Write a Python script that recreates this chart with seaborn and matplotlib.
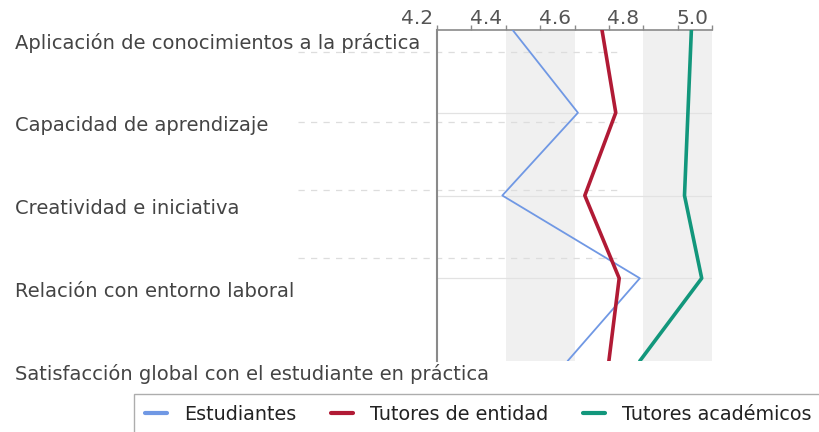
import matplotlib
matplotlib.use("Agg")
import matplotlib.pyplot as plt
from matplotlib.lines import Line2D
from matplotlib.transforms import ScaledTranslation, blended_transform_factory
from matplotlib.ticker import MultipleLocator
import seaborn as sns
import pandas as pd

categories = [
    "Aplicación de conocimientos a la práctica",
    "Capacidad de aprendizaje",
    "Creatividad e iniciativa",
    "Relación con entorno laboral",
    "Satisfacción global con el estudiante en práctica",
]
series_names = ["Estudiantes", "Tutores de entidad", "Tutores académicos"]
estudiantes = [4.42, 4.61, 4.39, 4.79, 4.58]
tutores_entidad = [4.68, 4.72, 4.63, 4.73, 4.70]
tutores_academicos = [4.94, 4.93, 4.92, 4.97, 4.79]
x_ticks = [4.2, 4.4, 4.6, 4.8, 5.0]
x_tick_labels = ["4.2", "4.4", "4.6", "4.8", "5.0"]

colors = ["#7098e4", "#b11a35", "#12977c"]
widths = [1.3, 2.6, 2.6]

rows = []
for name, vals in zip(series_names, [estudiantes, tutores_entidad, tutores_academicos]):
    for i, (c, v) in enumerate(zip(categories, vals)):
        rows.append({"series": name, "category": c, "pos": i, "value": v})
df = pd.DataFrame(rows)

sns.set_style("white")
plt.rcParams["font.family"] = ["DejaVu Sans"]

W, H = 820, 432
fig = plt.figure(figsize=(W / 100, H / 100), dpi=100)
ax = fig.add_axes([437 / W, 1 - 361 / H, (712 - 437) / W, (361 - 30) / H])

# shaded bands
ax.axvspan(4.4, 4.6, color="#f0f0f0", zorder=0, lw=0)
ax.axvspan(4.8, 5.0, color="#f0f0f0", zorder=0, lw=0)

# horizontal solid grid at categories
for i in range(1, len(categories) - 1):
    ax.axhline(i, color="#e2e2e2", lw=0.9, zorder=1)

# faint dashed guide lines
blend = blended_transform_factory(fig.transFigure, ax.transData)
for yv in [0.27, 1.11, 1.93, 2.76]:
    ax.add_line(Line2D([298 / W, 620 / W], [yv, yv], transform=blend, clip_on=False,
                       color="#dddddd", lw=0.9, ls=(0, (5, 5)), zorder=1))

sns.lineplot(data=df, x="value", y="pos", hue="series", hue_order=series_names,
             palette=colors, orient="y", sort=True, ax=ax, legend=False, zorder=3)
for ln, lw in zip(ax.lines[-3:], widths):
    ln.set_linewidth(lw)

ax.set_xlim(4.2, 5.0)
ax.set_ylim(len(categories) - 1, 0)
ax.xaxis.tick_top()
ax.set_xticks(x_ticks)
ax.set_xticklabels(x_tick_labels)
ax.xaxis.set_minor_locator(MultipleLocator(0.1))
ax.tick_params(axis="x", which="both", direction="out", length=3.6, width=1,
               color="#8a8a8a", labelsize=14.5, labelcolor="#555555", pad=-2.2, top=True, bottom=False)
for lab in ax.get_xticklabels():
    lab.set_ha("right")
    lab.set_transform(lab.get_transform() + ScaledTranslation(-4 / 100, 0, fig.dpi_scale_trans))
ax.set_yticks([])
ax.set_xlabel("")
ax.set_ylabel("")
for s in ["right", "bottom"]:
    ax.spines[s].set_visible(False)
ax.spines["top"].set_color("#8a8a8a")
ax.spines["left"].set_color("#8a8a8a")
ax.spines["top"].set_linewidth(1.2)
ax.spines["left"].set_linewidth(1.5)

# category labels
for i, c in enumerate(categories):
    ax.text(15 / W, i, c, transform=blend + ScaledTranslation(0, -13 / 100, fig.dpi_scale_trans),
            ha="left", va="center", fontsize=14, color="#444444", clip_on=False)

handles = [Line2D([], [], color=col, lw=3) for col in colors]
leg = fig.legend(handles, series_names, loc="upper left", bbox_to_anchor=(134 / W, 1 - 394 / H),
                 ncol=3, frameon=True, fancybox=False, fontsize=13.8, handlelength=1.15,
                 columnspacing=1.82, handletextpad=0.89, borderpad=0.55, borderaxespad=0)
leg.get_frame().set_edgecolor("#999999")
leg.get_frame().set_linewidth(1.0)
for t in leg.get_texts():
    t.set_color("#222222")

fig.savefig("out.png", dpi=100)
